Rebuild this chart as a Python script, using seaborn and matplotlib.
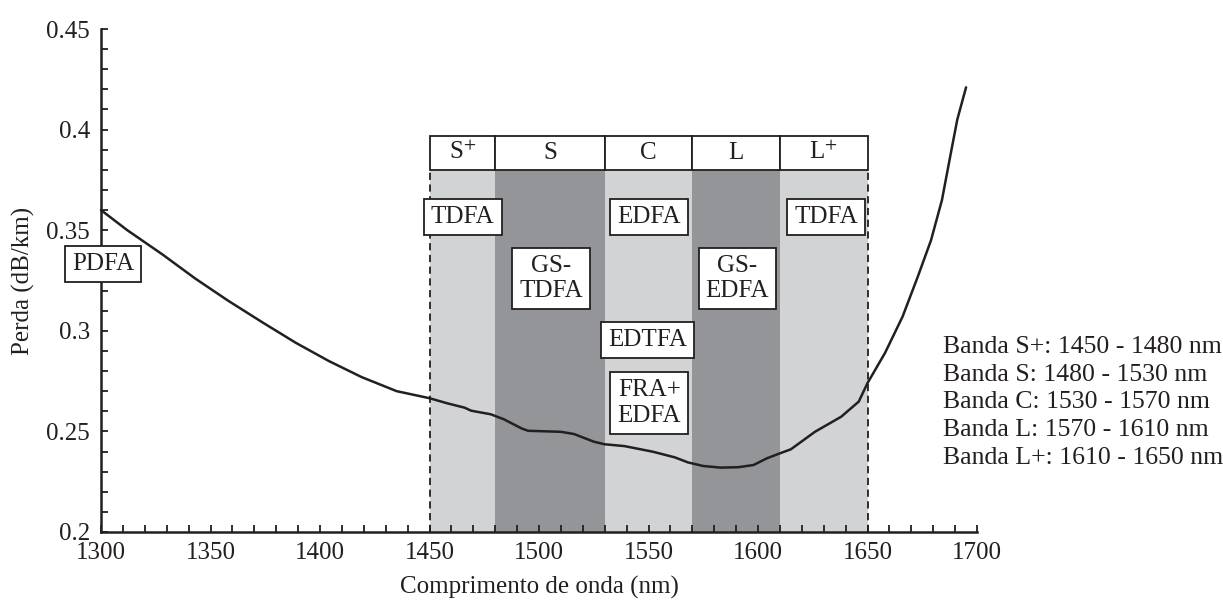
import numpy as np
import seaborn as sns
import matplotlib.pyplot as plt
from matplotlib.ticker import MultipleLocator

# attenuation curve
wavelength = [1300, 1312, 1328, 1343, 1358, 1374, 1389, 1404, 1419, 1435, 1450, 1458,
              1466, 1469, 1478, 1484, 1492, 1495, 1510, 1516, 1525, 1530, 1539, 1552,
              1562, 1568, 1575, 1583, 1591, 1598, 1604, 1610, 1615, 1626, 1638, 1646,
              1650, 1658, 1666, 1673, 1679, 1684, 1688, 1691, 1695]
loss = [0.360, 0.350, 0.338, 0.326, 0.315, 0.304, 0.294, 0.285, 0.277, 0.270, 0.2665, 0.264,
        0.2618, 0.2603, 0.2585, 0.256, 0.2515, 0.2503, 0.2498, 0.2487, 0.2449, 0.2436, 0.2427, 0.2399,
        0.2371, 0.2346, 0.2328, 0.232, 0.2322, 0.2333, 0.2366, 0.2391, 0.2411, 0.2498, 0.2573, 0.2648,
        0.274, 0.289, 0.307, 0.327, 0.345, 0.365, 0.388, 0.405, 0.421]

# bands
band_names = ["S$^{+}$", "S", "C", "L", "L$^{+}$"]
band_start = [1450, 1480, 1530, 1570, 1610]
band_end = [1480, 1530, 1570, 1610, 1650]
band_shade = ["#d1d3d4", "#939598", "#d1d3d4", "#939598", "#d1d3d4"]
shade_top = 0.38
header_top = 0.397

# amplifier labels
amp_labels = ["PDFA", "TDFA", "EDFA", "TDFA", "GS-\nTDFA", "GS-\nEDFA", "EDTFA", "FRA+\nEDFA"]
amp_x = [1301, 1465.2, 1550.3, 1631.1, 1505.5, 1590.6, 1549.6, 1550.3]
amp_y = [0.333, 0.3568, 0.3568, 0.3568, 0.326, 0.326, 0.2952, 0.2641]

legend_lines = ["Banda S+: 1450 - 1480 nm", "Banda S: 1480 - 1530 nm",
                "Banda C: 1530 - 1570 nm", "Banda L: 1570 - 1610 nm",
                "Banda L+: 1610 - 1650 nm"]

sns.set_style("ticks")
plt.rcParams['font.family'] = ['Liberation Serif', 'DejaVu Serif']
plt.rcParams['mathtext.fontset'] = 'stix'
fs = 18

fig = plt.figure(figsize=(12.23, 6.01), dpi=100)
ax = fig.add_axes([101 / 1223, 1 - 532 / 601, 876 / 1223, 503 / 601])

for s, e, c in zip(band_start, band_end, band_shade):
    ax.fill_between([s, e], 0.2, shade_top, color=c, lw=0, zorder=0)
ax.bar(band_start, header_top - shade_top, bottom=shade_top,
       width=np.array(band_end) - np.array(band_start), align='edge',
       color='white', edgecolor='#231f20', linewidth=1.3, zorder=1, clip_on=False)
for s, e, n in zip(band_start, band_end, band_names):
    ax.text((s + e) / 2, (shade_top + header_top) / 2, n, ha='center', va='center',
            fontsize=fs, color='#231f20')
ax.vlines([band_start[0], band_end[-1]], 0.2, shade_top, colors='#231f20',
          linestyles=(0, (4, 2.5)), linewidth=1.3, zorder=1.5)

sns.lineplot(x=wavelength, y=loss, ax=ax, color='#231f20', linewidth=1.8,
             sort=False, zorder=3, clip_on=False)

for lab, x, y in zip(amp_labels, amp_x, amp_y):
    ax.text(x, y, lab, ha='center', va='center', fontsize=fs, color='#231f20',
            linespacing=1.2, zorder=5, clip_on=False,
            bbox=dict(boxstyle='square,pad=0.28', fc='white', ec='#231f20', lw=1.3))

ax.set_xlim(1300, 1700)
ax.set_ylim(0.2, 0.45)
ax.xaxis.set_major_locator(MultipleLocator(50))
ax.xaxis.set_minor_locator(MultipleLocator(10))
ax.yaxis.set_major_locator(MultipleLocator(0.05))
ax.yaxis.set_minor_locator(MultipleLocator(0.01))
ax.yaxis.set_major_formatter(plt.FuncFormatter(lambda v, p: f"{v:g}"))
ax.tick_params(which='both', direction='in', length=5, width=1.3, color='#231f20',
               labelsize=fs, labelcolor='#231f20')
ax.tick_params(axis='x', which='major', pad=7)
ax.tick_params(axis='y', which='major', pad=8)
sns.despine(ax=ax)
for sp in ['left', 'bottom']:
    ax.spines[sp].set_linewidth(1.8)
    ax.spines[sp].set_color('#231f20')
    ax.spines[sp].set_zorder(4)

ax.set_xlabel("Comprimento de onda (nm)", fontsize=fs, color='#231f20', labelpad=9)
ax.set_ylabel("Perda (dB/km)", fontsize=fs, color='#231f20', labelpad=8)

for i, line in enumerate(legend_lines):
    fig.text(943 / 1223, 1 - (347 + 27.7 * i) / 601, line, ha='left', va='center',
             fontsize=18.5, color='#231f20')

fig.savefig("out.png", dpi=100)
